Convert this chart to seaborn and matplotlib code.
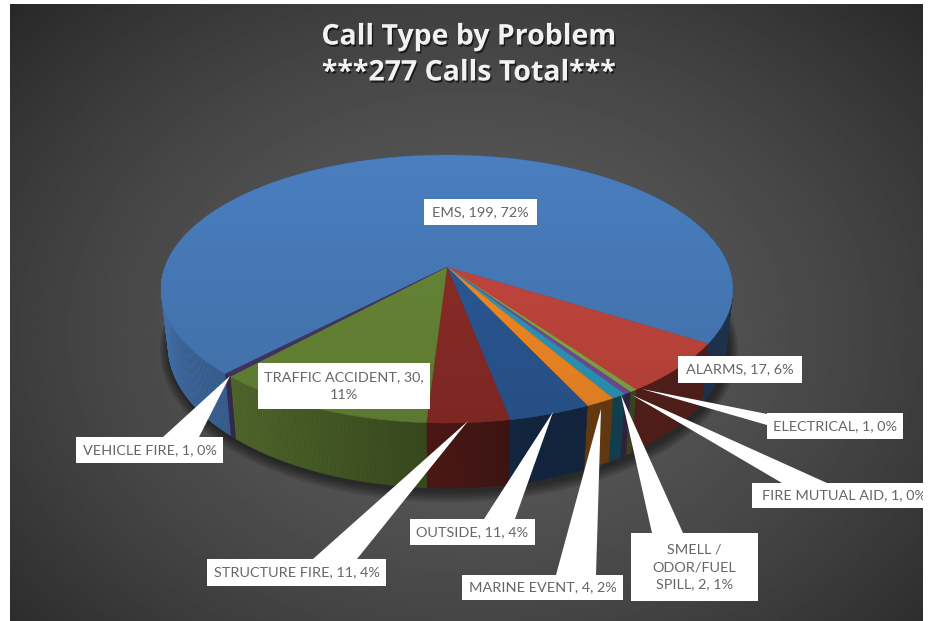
import matplotlib

matplotlib.use("Agg")
import matplotlib.patheffects as pe
import matplotlib.pyplot as plt
import numpy as np
import seaborn as sns
from matplotlib.patches import Polygon, Rectangle

TITLE = "Call Type by Problem"
SUBTITLE = "***277 Calls Total***"

# clockwise, starting from the EMS slice
categories = [
    "EMS",
    "ALARMS",
    "ELECTRICAL",
    "FIRE MUTUAL AID",
    "SMELL / ODOR/FUEL SPILL",
    "MARINE EVENT",
    "OUTSIDE",
    "STRUCTURE FIRE",
    "TRAFFIC ACCIDENT",
    "VEHICLE FIRE",
]
calls = [199, 17, 1, 1, 2, 4, 11, 11, 30, 1]
percents = [72, 6, 0, 0, 1, 2, 4, 4, 11, 0]

COLORS = sns.color_palette(
    [
        "#4a7ebf",
        "#c8483f",
        "#8ab04a",
        "#7a4f9f",
        "#2e9dc2",
        "#fb8e26",
        "#2c5a98",
        "#8f2d28",
        "#6a8a38",
        "#46386a",
    ]
)
WRAP = {
    "TRAFFIC ACCIDENT": "TRAFFIC ACCIDENT, 30,\n11%",
    "SMELL / ODOR/FUEL SPILL": "SMELL /\nODOR/FUEL\nSPILL, 2, 1%",
}

# label box (x0, y0, x1, y1) in pixels
BOXES = {
    "EMS": (424, 199, 537, 225),
    "ALARMS": (678, 356, 802, 383),
    "ELECTRICAL": (767, 413, 903, 439),
    "FIRE MUTUAL AID": (752, 483, 935, 508),
    "SMELL / ODOR/FUEL SPILL": (631, 533, 758, 601),
    "MARINE EVENT": (462, 575, 623, 600),
    "OUTSIDE": (410, 519, 535, 545),
    "STRUCTURE FIRE": (207, 559, 386, 586),
    "TRAFFIC ACCIDENT": (258, 363, 430, 409),
    "VEHICLE FIRE": (76, 437, 223, 463),
}
# leader wedges: tip, then the two base corners on the label box
LEADERS = {
    "ELECTRICAL": [(642, 389), (767, 414), (767, 425)],
    "FIRE MUTUAL AID": [(632, 395), (782, 483), (827, 483)],
    "SMELL / ODOR/FUEL SPILL": [(621, 395), (652, 533), (683, 533)],
    "MARINE EVENT": [(601, 409), (556, 575), (596, 575)],
    "OUTSIDE": [(553, 412), (484, 519), (515, 519)],
    "STRUCTURE FIRE": [(468, 421), (313, 559), (357, 559)],
    "VEHICLE FIRE": [(230, 376), (163, 437), (199, 437)],
}

W, H = 932, 621
CX, CY = 447, 267  # where the slices meet
START = 223.8  # degrees clockwise from the far side
PERSP = 0.164
TOP_A, TOP_B = 282, 130.4
BOT_A, BOT_B = 275, 138
BOT_CY = 323
TEXT = "#666666"


def rim(theta, a, b, cy):
    t = np.radians(theta)
    d = 1 + PERSP * np.cos(t)
    return CX + a * np.sin(t) / d, cy - b * np.cos(t) / d


def wall_shade(theta):
    u = np.sin(np.radians(theta))
    return np.interp(u, [-1, -0.68, 0, 0.25, 1], [0.88, 0.74, 0.5, 0.4, 0.4])


sns.set_theme(style="white")
plt.rcParams["font.family"] = ["Lato", "DejaVu Sans"]

fig = plt.figure(figsize=(W / 100, H / 100), dpi=100, facecolor="white")
ax = fig.add_axes([0, 0, 1, 1])

# backdrop
yy, xx = np.mgrid[0:H, 0:W]
r = np.hypot((xx - 470) / 640, (yy - 330) / 480)
ax.imshow(
    np.clip(0.36 - 0.2 * r**1.6, 0, 1),
    cmap="gray",
    vmin=0,
    vmax=1,
    extent=(10, 923, 621, 4),
    aspect="auto",
    zorder=0,
)

# soft shadow under the pie
circle = np.linspace(0, 360, 361)
for grow in [10, 8, 6, 4, 2]:
    sx, sy = rim(circle, BOT_A + grow, BOT_B + grow, BOT_CY + 2)
    ax.fill(sx + 2, sy, color="black", alpha=0.12, lw=0, zorder=1)

sweeps = np.array(calls) / sum(calls) * 360
edges = START + np.concatenate([[0], np.cumsum(sweeps)])

# side wall, in thin strips so the light can change along it
for i, color in enumerate(COLORS):
    steps = int(sweeps[i] * 2) + 1
    angles = np.linspace(edges[i], edges[i + 1], steps + 1)
    for a0, a1 in zip(angles[:-1], angles[1:]):
        x0, y0 = rim(np.array([a0, a1]), TOP_A, TOP_B, CY)
        x1, y1 = rim(np.array([a1, a0]), BOT_A, BOT_B, BOT_CY)
        shade = wall_shade((a0 + a1) / 2)
        strip = tuple(c * shade for c in color)
        ax.fill(np.r_[x0, x1], np.r_[y0, y1], color=strip, lw=0.3, zorder=2)

# top face
for i, color in enumerate(COLORS):
    angles = np.linspace(edges[i], edges[i + 1], max(int(sweeps[i]), 2) + 1)
    x, y = rim(angles, TOP_A, TOP_B, CY)
    ax.fill(np.r_[CX, x], np.r_[CY, y], color=color, lw=0.3, zorder=3)

# top face gets darker towards the viewer
tx, ty = rim(circle, TOP_A, TOP_B, CY)
outline = Polygon(np.c_[tx, ty], closed=True, fc="none", lw=0)
ax.add_patch(outline)
ramp = np.zeros((H, 2, 4))
ramp[..., 3] = np.clip((np.arange(H)[:, None] - 155) / 270, 0, 1) * 0.13
img = ax.imshow(ramp, extent=(0, W, H, 0), aspect="auto", zorder=4)
img.set_clip_path(outline)

# leaders, boxes, labels
for name, pts in LEADERS.items():
    ax.add_patch(Polygon(pts, closed=True, fc="white", ec="none", zorder=5))

for name, n, pct in zip(categories, calls, percents):
    x0, y0, x1, y1 = BOXES[name]
    ax.add_patch(
        Rectangle((x0, y0), x1 - x0, y1 - y0, fc="white", ec="none", zorder=6)
    )
    label = WRAP.get(name, f"{name}, {n}, {pct}%")
    ax.text(
        (x0 + x1) / 2,
        (y0 + y1) / 2,
        label,
        ha="center",
        va="center",
        color=TEXT,
        fontsize=10.4,
        linespacing=1.54,
        zorder=7,
    )

# white strip at the right of the screenshot, the last label runs under it
ax.add_patch(Rectangle((923, 0), 9, H, fc="white", ec="none", zorder=8))

shadow = [pe.withSimplePatchShadow(offset=(1, -1.5), shadow_rgbFace="black", alpha=0.6)]
for text, y in [(TITLE, 37), (SUBTITLE, 73)]:
    ax.text(
        469,
        y,
        text,
        ha="center",
        va="center",
        color="#f2f2f2",
        family=["Open Sans", "DejaVu Sans"],
        fontweight="bold",
        fontsize=20.5,
        path_effects=shadow,
        zorder=7,
    )

ax.set_xlim(0, W)
ax.set_ylim(H, 0)
ax.axis("off")

fig.savefig("out.png", dpi=100, facecolor="white")
